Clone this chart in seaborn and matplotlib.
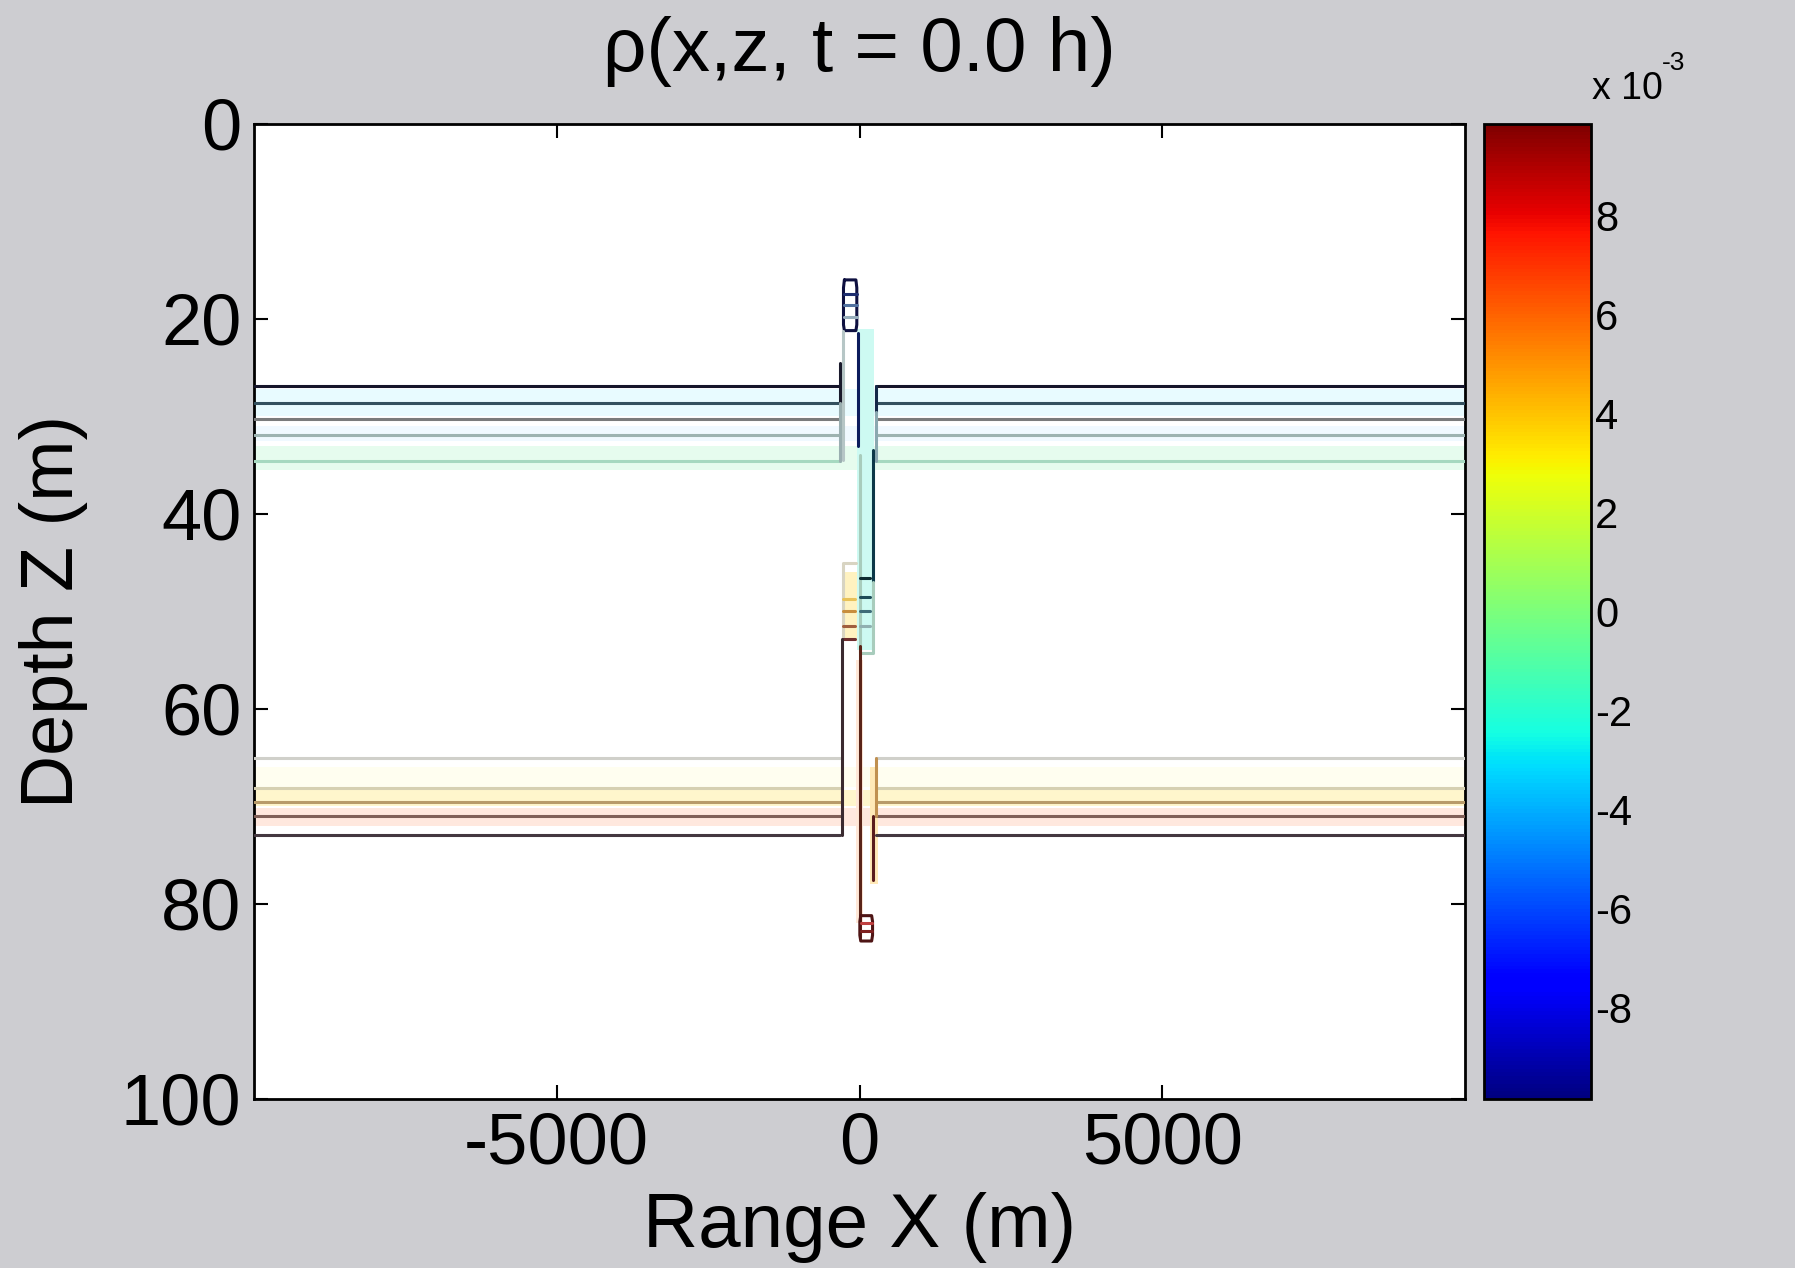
import numpy as np
import pandas as pd
import matplotlib
matplotlib.use("Agg")
import matplotlib.pyplot as plt
import seaborn as sns
from matplotlib.colors import Normalize
from matplotlib.cm import ScalarMappable

# ---------------- data ----------------
title = "ρ(x,z, t = 0.0 h)"
x_label = "Range X (m)"
y_label = "Depth Z (m)"
x_ticks = [-5000, 0, 5000]
z_ticks = [0, 20, 40, 60, 80, 100]
x_range = [-10000, 10000]
z_range = [0, 100]
cbar_ticks = [-8, -6, -4, -2, 0, 2, 4, 6, 8]
cbar_range = [-9.85, 9.85]
cbar_scale_text = "x 10"
cbar_scale_exp = "-3"

# horizontal contour lines (depth in m) and their rendered colours
upper_depths = [26.9, 28.6, 30.3, 31.9, 34.6]
upper_colors = ["#15152a", "#33505e", "#7a7b7c", "#9db3b1", "#a6d9c0"]
lower_depths = [65.0, 68.1, 69.5, 71.0, 72.9]
lower_colors = ["#d0d0ca", "#d6d0b2", "#b89b6a", "#806058", "#443840"]
step_left_x = -320
step_right_x = 270

# vertical / closed contour pieces of the central disturbance: (x list, z list, colour)
plume_x = [
    [-250, -60, -45, -45, -60, -250, -265, -265, -250],   # top loop
    [-250, -50], [-250, -50], [-250, -50],               # inner top loop levels
    [-265, -265],                                        # pale left edge
    [step_left_x, step_left_x], [step_left_x, step_left_x],
    [step_right_x, step_right_x], [step_right_x, step_right_x],
    [-20, -20],                                          # dark blue line
    [215, 215],                                          # dark teal line
    [0, 0, 220, 220],                                    # pale cyan column outline
    [0, 180], [0, 180], [0, 180], [0, 180],              # small blue steps
    [-265, -265, -60],                                   # pale warm column outline
    [-265, -80], [-265, -80], [-265, -80], [-265, -80],  # warm steps
    [-290, -290],                                        # lower left edge
    [0, 0],                                              # dark red centre line
    [step_right_x, step_right_x], [230, 230],            # lower right edge
    [20, 200, 215, 215, 200, 20, 5, 5, 20],              # bottom loop
    [20, 200], [20, 200],
]
plume_z = [
    [16.0, 16.0, 16.8, 20.6, 21.2, 21.2, 20.6, 16.8, 16.0],
    [17.4, 17.4], [18.6, 18.6], [19.8, 19.8],
    [21.2, 34.5],
    [24.5, 28.6], [28.6, 34.6],
    [26.9, 29.5], [29.5, 34.6],
    [21.4, 33.0],
    [33.4, 47.0],
    [34.0, 54.3, 54.3, 47.0],
    [46.6, 46.6], [48.5, 48.5], [50.0, 50.0], [51.5, 51.5],
    [52.8, 45.0, 45.0],
    [48.7, 48.7], [50.0, 50.0], [51.5, 51.5], [52.8, 52.8],
    [52.8, 72.9],
    [53.5, 83.4],
    [65.0, 71.0], [71.0, 77.5],
    [81.2, 81.2, 81.8, 83.2, 83.8, 83.8, 83.2, 81.8, 81.2],
    [82.0, 82.0], [82.8, 82.8],
]
plume_colors = [
    "#0e1040",
    "#1e2e70", "#5272a0", "#98aebc",
    "#b6c6c6",
    "#1a1a2c", "#9aaeb0",
    "#142848", "#8aa8b0",
    "#0c1c5c",
    "#0c3848",
    "#a8ccbc",
    "#0e2a30", "#1e4c58", "#3e6c78", "#90b0b0",
    "#d8d4c2",
    "#e8c25a", "#c88e3e", "#a05e3e", "#6e2e2e",
    "#3a2a30",
    "#5a2418",
    "#c09050", "#5a1c1c",
    "#4e1414",
    "#c04040", "#7e2020",
]

# faint colour halos around the contours: (x_left, x_right, z_top, z_bottom, colour)
halo_x0 = [-10000, -10000, -10000, -40, -280, -10000, -10000, -10000, 180, -60]
halo_x1 = [10000, 10000, 10000, 240, -40, 10000, 10000, 10000, 300, 60]
halo_z0 = [27.2, 31.0, 33.0, 21.0, 46.0, 66.0, 68.3, 70.2, 66.0, 55.0]
halo_z1 = [30.0, 32.5, 35.5, 54.0, 53.0, 68.0, 70.0, 72.0, 78.0, 82.0]
halo_colors = ["#e8fbff", "#f0f9ff", "#e6fcee", "#cdfaf2", "#fff2c0",
               "#fffef0", "#fff6cc", "#ffe8de", "#ffe9b8", "#ffe8d8"]

# ---------------- style ----------------
bg = "#cdcdd1"
sns.set_theme(style="white")
plt.rcParams["font.family"] = ["Liberation Sans", "DejaVu Sans"]
plt.rcParams["axes.edgecolor"] = "black"
plt.rcParams["text.color"] = "black"
plt.rcParams["axes.labelcolor"] = "black"
plt.rcParams["xtick.color"] = "black"
plt.rcParams["ytick.color"] = "black"

fig = plt.figure(figsize=(17.95, 12.68), dpi=100, facecolor=bg)
ax = fig.add_axes([0.1415, 0.1333, 0.6747, 0.769])
ax.set_facecolor("white")

# halos
for x0, x1, z0, z1, c in zip(halo_x0, halo_x1, halo_z0, halo_z1, halo_colors):
    ax.fill_between([x0, x1], [z0, z0], [z1, z1], color=c, lw=0, zorder=1)

# contour pieces
rows = []
for depths, colors in ((upper_depths, upper_colors), (lower_depths, lower_colors)):
    for d, c in zip(depths, colors):
        rows.append(pd.DataFrame({"x": [x_range[0], step_left_x], "z": [d, d], "c": c}))
        rows.append(pd.DataFrame({"x": [step_right_x, x_range[1]], "z": [d, d], "c": c}))
for xs, zs, c in zip(plume_x, plume_z, plume_colors):
    rows.append(pd.DataFrame({"x": xs, "z": zs, "c": c}))

for df in rows:
    sns.lineplot(data=df, x="x", y="z", color=df["c"].iloc[0], lw=2.2,
                 sort=False, estimator=None, ax=ax, zorder=3)

ax.set_xlim(*x_range)
ax.set_ylim(z_range[1], z_range[0])
ax.set_xticks(x_ticks)
ax.set_yticks(z_ticks)
ax.set_xticklabels([str(v) for v in x_ticks])
ax.set_yticklabels([str(v) for v in z_ticks])
ax.tick_params(direction="in", length=10, width=1.5, labelsize=52,
               top=True, right=True, bottom=True, left=True, pad=9)
for s in ax.spines.values():
    s.set_linewidth(2)
    s.set_color("black")
ax.set_xlabel(x_label, fontsize=55, labelpad=10)
ax.set_ylabel(y_label, fontsize=53, labelpad=24)
ax.set_title(title, fontsize=55, pad=38)

# colorbar
cax = fig.add_axes([0.8267, 0.1333, 0.0596, 0.769])
sm = ScalarMappable(norm=Normalize(*cbar_range), cmap="jet")
cb = fig.colorbar(sm, cax=cax)
cb.set_ticks(cbar_ticks)
cb.set_ticklabels([str(v) for v in cbar_ticks])
cb.outline.set_linewidth(2)
cb.outline.set_edgecolor("black")
cax.tick_params(direction="in", length=10, width=1.5, labelsize=30,
                left=True, right=True, pad=3)
fig.text(0.887, 0.922, cbar_scale_text, fontsize=27, ha="left", va="baseline")
fig.text(0.926, 0.945, cbar_scale_exp, fontsize=19, ha="left", va="baseline")

fig.savefig("out.png", dpi=100, facecolor=bg)
